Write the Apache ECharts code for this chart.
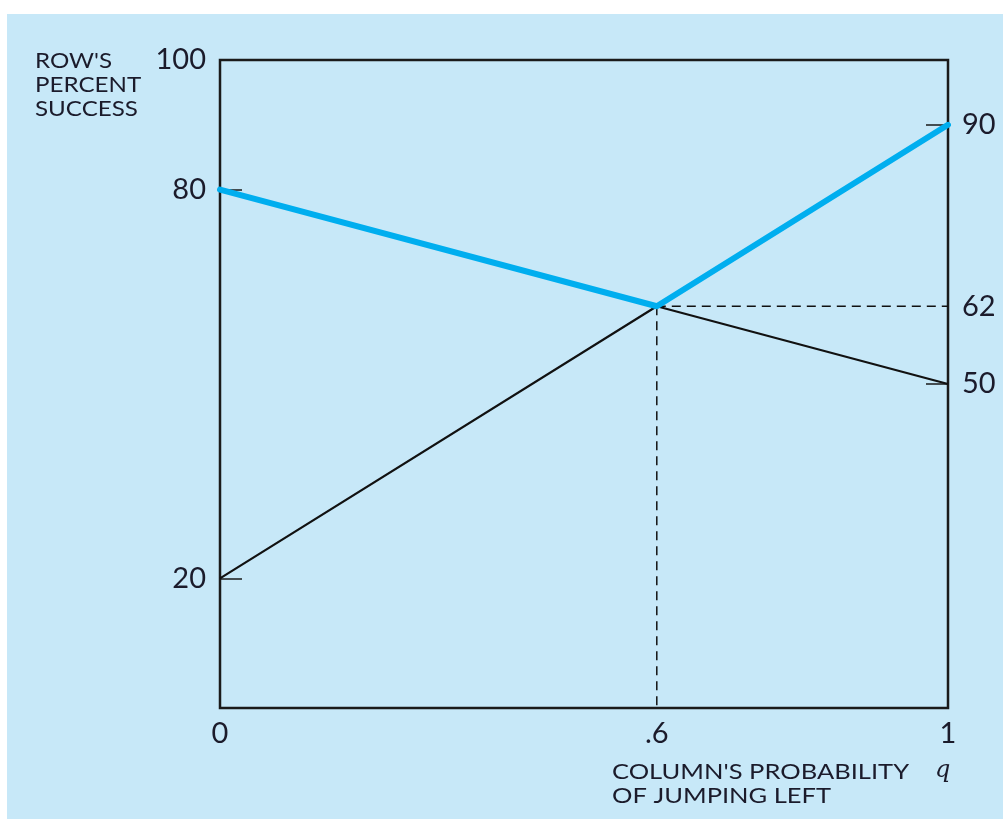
<!DOCTYPE html>
<html>
<head>
<meta charset="utf-8">
<script src="https://cdn.jsdelivr.net/npm/echarts@6/dist/echarts.min.js"></script>
<style>
  html, body { margin: 0; padding: 0; background: #ffffff; }
  #chart { width: 1003px; height: 819px; }
</style>
</head>
<body>
<div id="chart"></div>
<script>
// Row's percent success as a function of column's probability q of jumping left
const qValues = [0, 0.6, 1];
const upperEnvelope = [80, 62, 90];   // better of row's two options
const lowerEnvelope = [20, 62, 50];   // worse of row's two options
const equilibriumQ = 0.6;
const equilibriumValue = 62;
const xTickLabels = [0, 0.6, 1];
const leftTickLabels = [100, 80, 20];
const rightTickLabels = [90, 62, 50];
const leftTicks = [80, 20];
const rightTicks = [90, 50];

const textColor = '#1b1b2b';
const font = 'Lato, "Open Sans", sans-serif';

const chart = echarts.init(document.getElementById('chart'));

const toPairs = (xs, ys) => xs.map((x, i) => [x, ys[i]]);

chart.setOption({
  animation: false,
  graphic: [
    { type: 'rect', z: -10, shape: { x: 7, y: 14, width: 996, height: 805 }, style: { fill: '#c7e8f8' } },
    // axis titles in a wide-set caps face, stretched horizontally
    { type: 'text', x: 35, y: 49, scaleX: 1.15,
      style: { text: "ROW'S\nPERCENT\nSUCCESS", font: '21px ' + font, fill: textColor, lineHeight: 24 } },
    { type: 'text', x: 612, y: 760, scaleX: 1.16,
      style: { text: "COLUMN'S PROBABILITY\nOF JUMPING LEFT", font: '22px ' + font, fill: textColor, lineHeight: 24 } },
    { type: 'text', x: 935, y: 759, style: { text: 'q', font: 'italic 24px "DejaVu Serif", serif', fill: textColor } }
  ],
  grid: {
    left: 220, right: 55, top: 60, bottom: 111,
    show: true, borderColor: '#1a1a1a', borderWidth: 2.5, backgroundColor: 'transparent'
  },
  xAxis: {
    type: 'value', min: 0, max: 1,
    axisLine: { show: false },
    splitLine: { show: false },
    axisTick: { show: false },
    axisLabel: {
      customValues: xTickLabels,
      formatter: v => (v === 0 || v === 1) ? String(v) : String(v).replace(/^0/, ''),
      fontSize: 29, fontFamily: font, color: textColor, margin: 11
    }
  },
  yAxis: [
    {
      type: 'value', min: 0, max: 100, position: 'left',
      axisLine: { show: false },
      splitLine: { show: false },
      axisTick: { show: true, inside: true, length: 22, customValues: leftTicks, lineStyle: { color: '#1a1a1a', width: 1.5 } },
      axisLabel: { customValues: leftTickLabels, fontSize: 29, fontFamily: font, color: textColor, margin: 14 }
    },
    {
      type: 'value', min: 0, max: 100, position: 'right',
      axisLine: { show: false },
      splitLine: { show: false },
      axisTick: { show: true, inside: true, length: 22, customValues: rightTicks, lineStyle: { color: '#1a1a1a', width: 1.5 } },
      axisLabel: { customValues: rightTickLabels, fontSize: 29, fontFamily: font, color: textColor, margin: 14 }
    }
  ],
  series: [
    {
      type: 'line', data: toPairs(qValues, lowerEnvelope), symbol: 'none', z: 3,
      lineStyle: { color: '#111111', width: 2.2 }
    },
    {
      type: 'line', data: [[equilibriumQ, equilibriumValue], [1, equilibriumValue]], symbol: 'none', z: 2,
      lineStyle: { color: '#111111', width: 1.5, type: [9, 6] }
    },
    {
      type: 'line', data: [[equilibriumQ, equilibriumValue], [equilibriumQ, 0]], symbol: 'none', z: 2,
      lineStyle: { color: '#111111', width: 1.5, type: [9, 6] }
    },
    {
      type: 'line', data: toPairs(qValues, upperEnvelope), symbol: 'none', z: 4,
      lineStyle: { color: '#00aeef', width: 6, cap: 'round', join: 'round' }
    }
  ]
});
</script>
</body>
</html>
